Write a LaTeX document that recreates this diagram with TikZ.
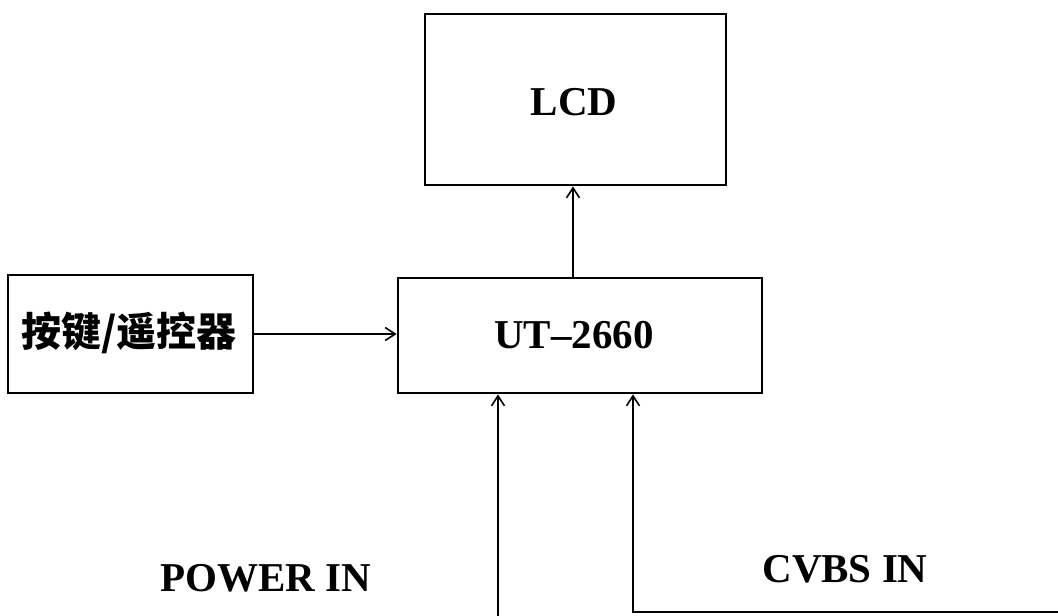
\documentclass[tikz,border=0pt]{standalone}
\usepackage{fontspec}
\setmainfont{Liberation Serif}
\newfontfamily\cjk{Noto Sans CJK SC}
\usetikzlibrary{arrows.meta}
\begin{document}
\begin{tikzpicture}[x=1pt,y=-1pt,
  blk/.style={draw,line width=2.8pt,rectangle,inner sep=0pt},
  lab/.style={font=\fontsize{41}{41}\selectfont\bfseries},
  conn/.style={line width=2pt,-{Straight Barb[length=10pt,width=13pt,line width=1.6pt]}}]
\useasboundingbox (0,0) rectangle (1058,616);
\node[blk,minimum width=301pt,minimum height=171pt] (lcd) at (575.5,99.5) {};
\node[lab] at (574,102) {LCD};
\node[blk,minimum width=364pt,minimum height=115pt] (ut) at (580,335.5) {};
\node[lab] at (574,335) {UT–2660};
\node[blk,minimum width=245pt,minimum height=118pt] (key) at (130.5,334) {};
\node[font=\cjk\fontsize{40}{40}\selectfont\bfseries] at (129,333) {按键/遥控器};
\node[lab] (pw) at (266,578) {POWER IN};
\node[lab] (cv) at (845,569) {CVBS IN};
\coordinate (pb) at (498,616);
\coordinate (cb) at (1058,612);
\draw[conn] (ut.north -| 573,0) -- (lcd.south -| 573,0);
\draw[conn] (key.east) -- (ut.west |- key.east);
\draw[conn] (pb) -- (ut.south -| pb);
\draw[conn] (cb) -- (633,612) -- (ut.south -| 633,0);
\end{tikzpicture}
\end{document}
